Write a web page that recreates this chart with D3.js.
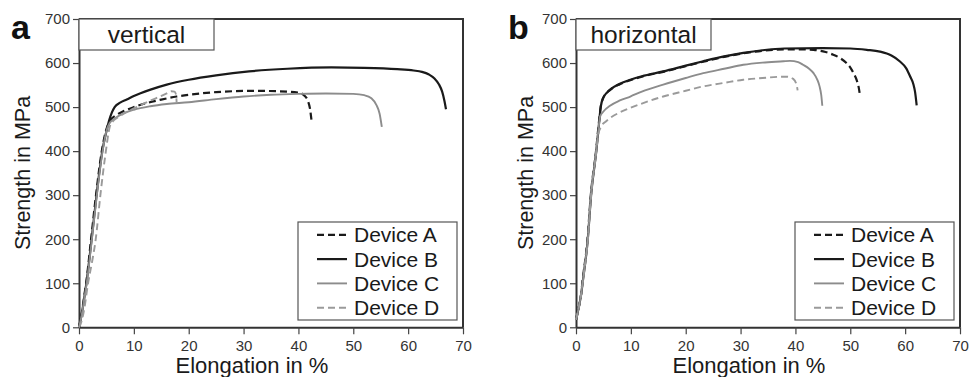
<!DOCTYPE html>
<html><head><meta charset="utf-8">
<script src="https://cdn.jsdelivr.net/npm/d3@7/dist/d3.min.js"></script>
<style>body{margin:0;background:#fff;} svg{display:block;font-family:"Liberation Sans",Arial,sans-serif;}</style>
</head><body>
<svg id="chart" width="977" height="377"></svg>
<script>
// ---- data ----
const xTicks = [0,10,20,30,40,50,60,70];
const yTicks = [0,100,200,300,400,500,600,700];
const deviceNames = ["Device A","Device B","Device C","Device D"];
const panelLetters = ["a","b"];
const panelTitles = ["vertical","horizontal"];

// Panel a (vertical): [elongation %, strength MPa]
const vertA = [[0,0],[0.5,32],[1,75],[1.3,100],[2.2,200],[3.1,300],[4.15,400],[5,450],[5.6,468],[6.8,482],[8,490],[10,500],[12,508],[15,517],[17.8,524],[20,528],[25,534],[28,536],[32,537],[36,536],[40,533],[41,527],[41.7,515],[42.1,497],[42.4,468]];
const vertB = [[0,0],[0.5,30],[1,70],[1.35,100],[2.3,200],[3.2,300],[4.25,400],[5,445],[5.5,470],[6,488],[6.5,500],[7.5,510],[8.7,517],[10,525],[12.9,539],[16,551],[20,562],[25,572],[31,581],[38,587],[46,590],[52,589],[58,586],[61,583],[62.5,580],[63.8,574],[64.8,565],[65.6,552],[66.2,535],[66.6,515],[66.9,495]];
const vertC = [[0,0],[0.5,28],[1,68],[1.4,100],[2.35,200],[3.25,300],[4.3,400],[5.1,450],[5.6,464],[6.5,474],[8,485],[10,494],[13,502],[16,507],[20,511],[25,518],[30,524],[35,528],[40,530],[45,531],[50,530],[52,527],[53.3,520],[54.2,505],[54.8,485],[55.2,455]];
const vertD = [[0,0],[0.5,15],[1,45],[1.65,100],[2.4,150],[3.05,200],[3.9,300],[4.9,400],[5.6,455],[6.2,468],[7,476],[8,484],[10,497],[12,509],[14,520],[16,531],[16.8,536],[17.4,535],[17.7,528],[17.8,510]];

// Panel b (horizontal)
const horA = [[0,17],[0.5,45],[1,82],[1.15,100],[2.1,200],[2.7,300],[3.65,400],[4.05,450],[4.5,500],[5,522],[6.2,539],[8,552],[9.9,561],[12,569],[15.9,580],[20,593],[23.2,603],[27,614],[30.5,622],[34,628],[38,631],[41,631],[43.3,630],[45.5,625],[46.9,619],[48.3,610],[49.3,600],[50.1,588],[50.6,577],[51.2,560],[51.5,547],[51.8,524]];
const horB = [[0,17],[0.5,45],[1,80],[1.2,100],[2.15,200],[2.75,300],[3.7,400],[4.1,450],[4.5,500],[5,522],[6.2,539],[8,553],[9.9,562],[12,570],[15.9,581],[20,594],[23.2,604],[27,615],[30.5,623],[34,629],[38,633],[45,634],[50,633],[53,630],[55.4,626],[57.5,617],[59,604],[60.2,588],[60.9,570],[61.5,552],[61.8,535],[62.1,504]];
const horC = [[0,17],[0.5,45],[1,80],[1.2,100],[2.15,200],[2.75,300],[3.7,400],[4.1,450],[4.4,479],[5,490],[6.2,503],[8,515],[9.9,524],[12,535],[15.9,551],[20,566],[23.2,577],[27,587],[30.5,596],[34,601],[37.8,604],[39,605],[40.5,602],[41.4,596],[42.5,587],[43.3,577],[44,562],[44.4,547],[44.7,528],[44.9,503]];
const horD = [[0,17],[0.5,45],[1,80],[1.2,100],[2.15,200],[2.75,300],[3.7,400],[4.1,440],[4.6,456],[5.5,468],[6.2,475],[8,488],[9.9,498],[12,508],[15.9,524],[20,537],[23.2,547],[27,555],[30.5,562],[34,566],[37.8,569],[38.4,569],[39.6,564],[40.2,551],[40.4,538]];

const panelSeries = [[vertA,vertB,vertC,vertD],[horA,horB,horC,horD]];

// ---- styles ----
const lineStyles = [
  {stroke:"#1a1a1a", width:2.2, dash:"7,4"},
  {stroke:"#1a1a1a", width:2.2, dash:null},
  {stroke:"#8c8c8c", width:1.9, dash:null},
  {stroke:"#9a9a9a", width:1.9, dash:"7,4"}
];

const svg = d3.select("#chart");
const plotW = 384, plotTop = 19, plotBottom = 327.3;
const panelLeft = [79, 576];
const yLabelX = [30, 533];
const letterX = [11, 508];

panelLeft.forEach((left, p) => {
  const x = d3.scaleLinear().domain([0,70]).range([left, left+plotW]);
  const y = d3.scaleLinear().domain([0,700]).range([plotBottom, plotTop]);
  const g = svg.append("g");

  // frame (top & right)
  g.append("path")
    .attr("d", `M${x(0)},${y(700)}H${x(70)}V${y(0)}`)
    .attr("fill","none").attr("stroke","#333").attr("stroke-width",2);

  // axes
  const xa = g.append("g").attr("transform",`translate(0,${plotBottom})`)
    .call(d3.axisBottom(x).tickValues(xTicks).tickSize(7).tickPadding(6).tickSizeOuter(0));
  const ya = g.append("g").attr("transform",`translate(${left},0)`)
    .call(d3.axisLeft(y).tickValues(yTicks).tickSize(6).tickPadding(3).tickSizeOuter(0));
  [xa,ya].forEach(a=>{
    a.select(".domain").attr("stroke","#333").attr("stroke-width",2);
    a.selectAll(".tick line").attr("stroke","#444").attr("stroke-width",1.2);
    a.selectAll(".tick text").attr("fill","#333").style("font-size","15px")
      .style("font-family",'"Liberation Sans",Arial,sans-serif');
  });

  // curves
  const line = d3.line().x(d=>x(d[0])).y(d=>y(d[1])).curve(d3.curveMonotoneX);
  panelSeries[p].forEach((s,i)=>{
    const st = lineStyles[i];
    g.append("path").datum(s).attr("d", line)
      .attr("fill","none").attr("stroke",st.stroke).attr("stroke-width",st.width)
      .attr("stroke-dasharray",st.dash).attr("stroke-linejoin","round");
  });

  // title box
  g.append("rect").attr("x",x(0)).attr("y",y(700)).attr("width",135).attr("height",31)
    .attr("fill","#fff").attr("stroke","#555").attr("stroke-width",1.2);
  g.append("text").attr("x",x(0)+67.5).attr("y",43).attr("text-anchor","middle")
    .attr("fill","#1a1a1a").style("font-size","24.5px").text(panelTitles[p]);

  // legend
  const lx = left + 219, ly = 222;
  g.append("rect").attr("x",lx).attr("y",ly).attr("width",159).attr("height",98)
    .attr("fill","#fff").attr("stroke","#555").attr("stroke-width",1.2);
  deviceNames.forEach((name,i)=>{
    const base = 242.3 + i*24.3;
    const st = lineStyles[i];
    g.append("line").attr("x1",lx+19).attr("x2",lx+49).attr("y1",base-7.5).attr("y2",base-7.5)
      .attr("stroke",st.stroke).attr("stroke-width",st.width).attr("stroke-dasharray",st.dash);
    g.append("text").attr("x",lx+56).attr("y",base).attr("fill","#1a1a1a")
      .style("font-size","21px").text(name);
  });

  // axis titles
  g.append("text").attr("x",left+plotW/2-19).attr("y",373).attr("text-anchor","middle")
    .attr("fill","#1a1a1a").style("font-size","22px").text("Elongation in %");
  g.append("text").attr("transform",`translate(${yLabelX[p]},173) rotate(-90)`)
    .attr("text-anchor","middle").attr("fill","#1a1a1a").style("font-size","21.5px").text("Strength in MPa");

  // panel letter
  g.append("text").attr("x",letterX[p]).attr("y",39).attr("fill","#111")
    .style("font-size","34px").style("font-weight","bold").text(panelLetters[p]);
});
</script>
</body></html>
